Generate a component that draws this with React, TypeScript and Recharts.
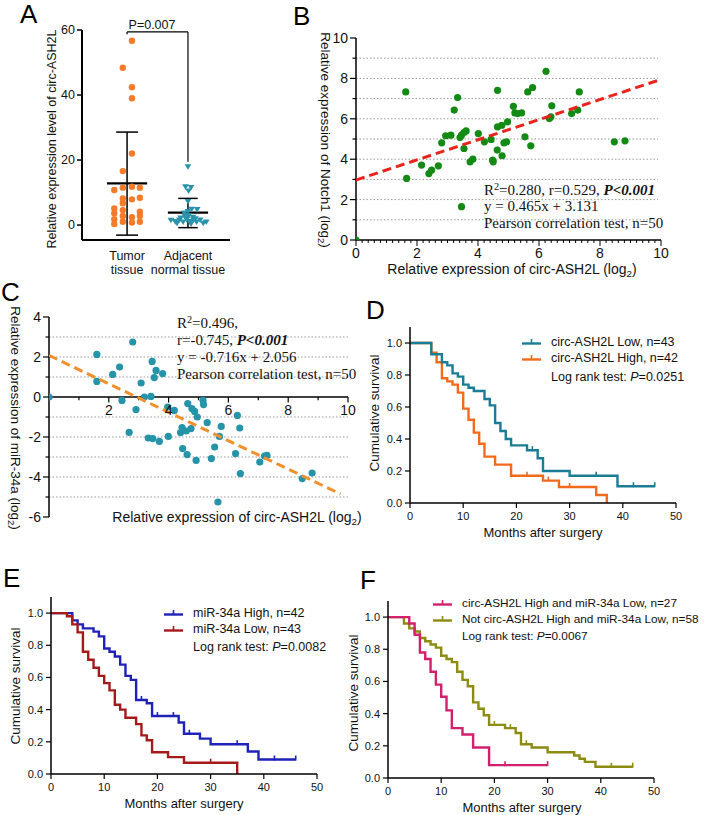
import React from 'react';
import {
  ScatterChart,
  Scatter,
  LineChart,
  Line,
  XAxis,
  YAxis,
  ReferenceLine,
  ReferenceDot,
} from 'recharts';

const SANS = '"Liberation Sans", Arial, Helvetica, sans-serif';
const SERIF = '"Liberation Serif", "Times New Roman", serif';

// ---------- A: circ-ASH2L level, tumour vs adjacent tissue ----------
// [jitter (category units), value]
const aTumor = [
  [0.08, 56.7], [-0.07, 48.4], [0.08, 42.4], [0.08, 39.0], [0.08, 22.0], [-0.07, 16.6],
  [-0.21, 10.8], [-0.07, 11.5], [0.08, 11.8], [0.21, 11.5], [-0.07, 8.2], [0.08, 7.9],
  [0.21, 8.4], [-0.07, 6.7], [-0.21, 5.1], [-0.07, 4.6], [0.21, 4.1], [-0.21, 3.6],
  [-0.07, 2.8], [0.08, 2.4], [0.21, 2.8], [-0.21, 1.8], [-0.21, 0.3], [-0.07, 1.0],
  [0.08, 0.8], [0.21, 1.0],
];
const aAdjacent = [
  [0, 18.0], [-0.04, 11.8], [0.05, 11.6], [0.01, 10.5], [0, 7.3], [0.06, 4.9], [0.15, 4.8],
  [0.0, 4.2], [-0.06, 3.7], [-0.28, 1.5], [-0.21, 1.1], [-0.14, 1.6], [-0.08, 1.0],
  [-0.02, 1.7], [0.03, 1.1], [0.09, 1.6], [0.14, 1.0], [0.2, 1.6], [0.25, 0.6], [0.3, 1.0],
  [-0.05, 2.6], [0.01, 2.9], [0.08, 2.4], [0.12, 2.0], [-0.12, 2.2], [-0.18, 0.6], [0.05, 0.4],
];
const aGroups = [['Tumor', 'tissue'], ['Adjacent', 'normal tissue']];
const aMean = [12.8, 3.8];
const aSdTop = [28.6, 8.2];
const aSdBottom = [-3.1, -0.8];
const aYTicks = [0, 20, 40, 60];
const aBracket = { top: 59.4, leftEnd: 58.7, rightEnd: 19.5, label: 'P=0.007' };

// ---------- B: Notch1 vs circ-ASH2L ----------
const bPoints = [
  [1.63, 7.33], [1.66, 3.05], [2.15, 3.71], [2.39, 3.29], [2.48, 3.46], [2.7, 3.67], [2.81, 4.81],
  [2.94, 5.16], [3.11, 5.19], [3.22, 6.43], [3.33, 7.05], [3.41, 5.07], [3.46, 5.19], [3.54, 5.32],
  [3.61, 5.4], [3.54, 4.53], [3.74, 3.87], [3.83, 4.0], [4.01, 5.27], [4.21, 4.86], [4.43, 4.98],
  [4.48, 3.95], [4.5, 3.87], [4.63, 4.45], [4.64, 7.41], [4.64, 5.6], [4.78, 5.68], [4.79, 4.17],
  [4.85, 4.81], [4.94, 4.86], [4.97, 5.85], [5.16, 6.62], [5.21, 6.29], [5.3, 6.26], [5.43, 6.29],
  [5.54, 5.11], [5.63, 7.33], [5.73, 4.66], [5.79, 7.55], [6.23, 8.35], [6.34, 6.01], [6.42, 6.64],
  [6.39, 6.1], [7.07, 6.26], [7.27, 6.43], [7.32, 7.33], [8.47, 4.86], [8.82, 4.91], [3.46, 1.65],
  [0, 0],
];
const bFit = [[0, 2.97], [10, 7.95]];
const bGrid = [1, 2, 3, 4, 5, 6, 7, 8, 9];
const bXTicks = [
  0, 0.2, 0.4, 0.6, 0.8, 1, 1.2, 1.4, 1.6, 1.8, 2, 2.2, 2.4, 2.6, 2.8, 3, 3.2, 3.4, 3.6, 3.8,
  4, 4.2, 4.4, 4.6, 4.8, 5, 5.2, 5.4, 5.6, 5.8, 6, 6.2, 6.4, 6.6, 6.8, 7, 7.2, 7.4, 7.6, 7.8,
  8, 8.2, 8.4, 8.6, 8.8, 9, 9.2, 9.4, 9.6, 9.8, 10,
];
const bYTicks = [0, 1, 2, 3, 4, 5, 6, 7, 8, 9, 10];

// ---------- C: miR-34a vs circ-ASH2L ----------
const cPoints = [
  [0, 0], [1.6, 2.13], [1.6, 0.78], [2.13, 1.13], [2.36, 1.5], [2.44, -0.17], [2.68, -1.77],
  [2.8, 2.75], [2.91, -0.63], [3.08, 0.7], [3.19, 0.0], [3.32, -2.05], [3.41, 0.03], [3.47, -2.08],
  [3.45, 1.78], [3.52, 0.97], [3.58, 1.33], [3.69, -2.22], [3.8, 1.17], [3.97, -0.5], [3.99, -1.97],
  [4.19, -0.67], [4.4, -1.78], [4.45, -1.53], [4.47, -2.58], [4.59, -1.7], [4.64, -0.33],
  [4.62, -2.88], [4.75, -1.58], [4.78, -0.58], [4.87, -0.72], [4.92, -3.17], [4.96, -1.0],
  [5.15, -0.17], [5.17, -0.38], [5.29, -1.28], [5.43, -3.08], [5.54, -2.5], [5.65, -5.25],
  [5.7, -1.97], [5.76, -1.47], [6.24, -2.83], [6.3, -0.92], [6.38, -1.55], [6.4, -3.83],
  [7.05, -3.25], [7.21, -2.95], [7.29, -2.92], [8.47, -4.08], [8.8, -3.8],
];
const cFit = [[0, 2.08], [9.75, -4.85]];
const cGrid = [3, 2, 1, -1, -2, -3, -4, -5];
const cXTicks = [1, 2, 3, 4, 5, 6, 7, 8, 9, 10];
const cYTicks = [-6, -5, -4, -3, -2, -1, 0, 1, 2, 3, 4];

// ---------- D/E/F: Kaplan-Meier curves [month, survival, censored?] ----------
const dLow = [
  [0, 1], [4, 0.93], [6, 0.88], [7, 0.86], [8, 0.81], [9, 0.79], [10, 0.74], [11, 0.72], [12, 0.7],
  [14, 0.65], [15, 0.61], [16, 0.5], [17, 0.45], [18, 0.4], [19, 0.36], [22, 0.33], [23, 0.33, 1],
  [24, 0.28], [25, 0.2], [30, 0.17], [35, 0.17, 1], [39, 0.105], [42, 0.105, 1], [46, 0.105, 1],
];
const dHigh = [
  [0, 1], [4, 0.94], [5, 0.88], [6, 0.78], [7, 0.76], [8, 0.74], [9, 0.69], [10, 0.59], [11, 0.52],
  [12, 0.44], [13, 0.37], [14, 0.29], [16, 0.24], [19, 0.17], [22, 0.17, 1], [25, 0.14],
  [26, 0.14, 1], [28, 0.1], [30, 0.1, 1], [35, 0.05], [37, 0],
];
const eHigh = [
  [0, 1], [4, 0.955], [5, 0.93], [6, 0.905], [8, 0.885], [9, 0.855], [10, 0.78], [11, 0.76],
  [12, 0.73], [13, 0.68], [14, 0.61], [15, 0.585], [16, 0.46], [17, 0.46, 1], [18, 0.44],
  [19, 0.36], [20, 0.36, 1], [23, 0.36, 1], [24, 0.32], [25, 0.25], [26, 0.25, 1], [28, 0.22],
  [30, 0.185], [35, 0.185, 1], [37, 0.14], [39, 0.09], [42, 0.09, 1], [46, 0.09, 1],
];
const eLow = [
  [0, 1], [3, 0.98], [4, 0.93], [5, 0.88], [6, 0.76], [7, 0.71], [8, 0.66], [9, 0.61], [10, 0.565],
  [11, 0.52], [12, 0.43], [13, 0.4], [14, 0.35], [16, 0.31], [17, 0.24], [18, 0.21], [19, 0.135],
  [22, 0.105], [25, 0.07], [30, 0.07, 1], [35, 0],
];
const fHighLow = [
  [0, 1], [4, 0.96], [5, 0.89], [6, 0.78], [7, 0.74], [8, 0.66], [9, 0.58], [10, 0.505],
  [11, 0.42], [12, 0.31], [14, 0.27], [16, 0.19], [19, 0.08], [22, 0.08, 1], [30, 0.08, 1],
];
const fOther = [
  [0, 1], [3, 0.96], [4, 0.93], [5, 0.91], [6, 0.87], [7, 0.85], [8, 0.83], [9, 0.81], [10, 0.76],
  [11, 0.74], [12, 0.72], [13, 0.66], [14, 0.61], [15, 0.57], [16, 0.47], [17, 0.43], [18, 0.39],
  [19, 0.33], [20, 0.33, 1], [22, 0.31], [23, 0.31, 1], [24, 0.28], [25, 0.21], [26, 0.21, 1],
  [27, 0.19], [30, 0.16], [35, 0.14], [36, 0.12], [37, 0.1], [39, 0.07], [42, 0.07, 1], [46, 0.07, 1],
];
const kmXTicks = [0, 10, 20, 30, 40, 50];
const kmYTicks = [0, 0.2, 0.4, 0.6, 0.8, 1.0];

const dNames = ['circ-ASH2L Low, n=43', 'circ-ASH2L High, n=42'];
const eNames = ['miR-34a High, n=42', 'miR-34a Low, n=43'];
const fNames = ['circ-ASH2L High and miR-34a Low, n=27', 'Not circ-ASH2L High and miR-34a Low, n=58'];
const pValues = ['0.0251', '0.0082', '0.0067'];

const COL = {
  aOrange: '#f47b2a',
  aTeal: '#2a93ab',
  bGreen: '#138a14',
  bRed: '#e8241d',
  cTeal: '#2593a8',
  cOrange: '#f0902c',
  dTeal: '#1b7c95',
  dOrange: '#f26a1c',
  eBlue: '#1f22b8',
  eRed: '#a5191b',
  fMagenta: '#d2206c',
  fOlive: '#8c8b12',
};

const toXY = (arr: number[][]) => arr.map(([x, y]) => ({ x, y }));
const toKM = (arr: number[][]) => arr.map(([t, s, c]) => ({ t, s, c: !!c }));

// ---------- small helpers ----------
function Txt({ x, y, size, rotate = 0, family = SANS, children }: any) {
  return (
    <div
      style={{
        position: 'absolute',
        left: x,
        top: y,
        transform: `translate(-50%, -50%) rotate(${rotate}deg)`,
        fontSize: size,
        fontFamily: family,
        whiteSpace: 'nowrap',
        lineHeight: 1,
        color: '#111',
      }}
    >
      {children}
    </div>
  );
}

const Sub = ({ children }: any) => (
  <span style={{ fontSize: '0.7em', verticalAlign: '-0.3em', lineHeight: 0 }}>{children}</span>
);
const Sup = ({ children }: any) => (
  <span style={{ fontSize: '0.68em', verticalAlign: '0.5em', lineHeight: 0 }}>{children}</span>
);

function Letter({ x, y, children }: any) {
  return (
    <div style={{ position: 'absolute', left: x, top: y, fontSize: 26, lineHeight: '30px', fontFamily: SANS, color: '#000' }}>
      {children}
    </div>
  );
}

const dot = (color: string, r: number) => (p: any) => (
  <circle cx={p.cx} cy={p.cy} r={r} fill={color} />
);
const triDown = (color: string) => (p: any) => (
  <polygon
    points={`${p.cx - 3.4},${p.cy - 2.4} ${p.cx + 3.4},${p.cy - 2.4} ${p.cx},${p.cy + 3.2}`}
    fill={color}
  />
);
const noShape = () => <g />;

// ---------- Panel A ----------
function CatTick(p: any) {
  const idx = Math.round(p.payload.value) - 1;
  const lines = aGroups[idx] || ['', ''];
  return (
    <g>
      <text x={p.x} y={p.y + 19.5} textAnchor="middle" fontSize={12.5} fontFamily={SANS} fill="#111">
        {lines[0]}
      </text>
      <text x={p.x} y={p.y + 34} textAnchor="middle" fontSize={12.5} fontFamily={SANS} fill="#111">
        {lines[1]}
      </text>
    </g>
  );
}

function PanelA() {
  const tumor = aTumor.map(([j, v]) => ({ x: 1 + j, y: v }));
  const adj = aAdjacent.map(([j, v]) => ({ x: 2 + j, y: v }));
  const seg = (x1: number, y1: number, x2: number, y2: number, w = 2) => (
    <ReferenceLine
      key={`${x1}-${y1}-${x2}-${y2}`}
      segment={[{ x: x1, y: y1 }, { x: x2, y: y2 }]}
      stroke="#000"
      strokeWidth={w}
    />
  );
  return (
    <ScatterChart width={210} height={270} margin={{ top: 10, right: 10, bottom: 10, left: 22 }}>
      <XAxis
        type="number"
        dataKey="x"
        domain={[0.26, 2.69]}
        allowDataOverflow
        ticks={[1, 2]}
        interval={0}
        height={40}
        axisLine={{ stroke: '#000', strokeWidth: 2 }}
        tickLine={false}
        tickSize={0}
        tickMargin={0}
        tick={(p: any) => <CatTick {...p} />}
      />
      <YAxis
        type="number"
        dataKey="y"
        domain={[-4.6, 60]}
        allowDataOverflow
        ticks={aYTicks}
        interval={0}
        width={30}
        axisLine={{ stroke: '#000', strokeWidth: 2 }}
        tickLine={{ stroke: '#000', strokeWidth: 1.5 }}
        tickSize={5}
        tickMargin={2}
        tick={{ fill: '#111', fontSize: 12.5, fontFamily: SANS }}
      />
      {aMean.map((m, i) => seg(i + 1 - 0.33, m, i + 1 + 0.33, m, 2.2))}
      {aSdTop.map((v, i) => seg(i + 1, aSdBottom[i], i + 1, v, 1.5))}
      {aSdTop.map((v, i) => seg(i + 1 - (i ? 0.16 : 0.18), v, i + 1 + (i ? 0.16 : 0.18), v, 1.5))}
      {aSdBottom.map((v, i) => seg(i + 1 - (i ? 0.16 : 0.18), v, i + 1 + (i ? 0.16 : 0.18), v, 1.5))}
      {seg(1, aBracket.leftEnd, 1, aBracket.top, 1.2)}
      {seg(1, aBracket.top, 2, aBracket.top, 1.2)}
      {seg(2, aBracket.top, 2, aBracket.rightEnd, 1.2)}
      <Scatter data={tumor} shape={dot(COL.aOrange, 3.2)} isAnimationActive={false} />
      <Scatter data={adj} shape={triDown(COL.aTeal)} isAnimationActive={false} />
    </ScatterChart>
  );
}

// ---------- Panel B ----------
function BXTick(p: any) {
  const v = p.payload.value;
  const major = Number.isInteger(v) && v % 2 === 0;
  return (
    <g>
      <line x1={p.x} x2={p.x} y1={p.y} y2={p.y + (major ? 6 : 3)} stroke="#000" strokeWidth={1} />
      {major && (
        <text x={p.x} y={p.y + 17.5} textAnchor="middle" fontSize={14} fontFamily={SANS} fill="#111">
          {v}
        </text>
      )}
    </g>
  );
}

function YTick(p: any) {
  const v = p.payload.value;
  const major = v % 2 === 0;
  return (
    <g>
      <line x1={p.x} x2={p.x - (major ? 6 : 3.5)} y1={p.y} y2={p.y} stroke="#000" strokeWidth={1.2} />
      {major && (
        <text x={p.x - 8} y={p.y + 5} textAnchor="end" fontSize={14} fontFamily={SANS} fill="#111">
          {v}
        </text>
      )}
    </g>
  );
}

function PanelB() {
  return (
    <ScatterChart width={380} height={270} margin={{ top: 18, right: 19, bottom: 20, left: 26 }}>
      <XAxis
        type="number"
        dataKey="x"
        domain={[0, 10]}
        allowDataOverflow
        ticks={bXTicks}
        interval={0}
        height={30}
        axisLine={{ stroke: '#000', strokeWidth: 1.5 }}
        tickLine={false}
        tickSize={0}
        tickMargin={0}
        tick={(p: any) => <BXTick {...p} />}
      />
      <YAxis
        type="number"
        dataKey="y"
        domain={[0, 10]}
        allowDataOverflow
        ticks={bYTicks}
        interval={0}
        width={30}
        axisLine={{ stroke: '#000', strokeWidth: 1.5 }}
        tickLine={false}
        tickSize={0}
        tickMargin={0}
        tick={(p: any) => <YTick {...p} />}
      />
      {bGrid.map((g) => (
        <ReferenceLine
          key={g}
          segment={[{ x: 0, y: g }, { x: 9.9, y: g }]}
          stroke="#999"
          strokeWidth={1}
          strokeDasharray="1.5 2"
        />
      ))}
      <Scatter data={toXY(bPoints)} shape={dot(COL.bGreen, 3.6)} isAnimationActive={false} />
      <Scatter
        data={toXY(bFit)}
        shape={noShape}
        line={{ stroke: COL.bRed, strokeWidth: 3, strokeDasharray: '9 5' }}
        isAnimationActive={false}
      />
    </ScatterChart>
  );
}

// ---------- Panel C ----------
function PanelC() {
  return (
    <ScatterChart width={360} height={250} margin={{ top: 27, right: 12, bottom: 23, left: 19 }}>
      <XAxis type="number" dataKey="x" domain={[0, 10]} allowDataOverflow hide />
      <YAxis
        type="number"
        dataKey="y"
        domain={[-6, 4]}
        allowDataOverflow
        ticks={cYTicks}
        interval={0}
        width={30}
        axisLine={{ stroke: '#000', strokeWidth: 1.5 }}
        tickLine={false}
        tickSize={0}
        tickMargin={0}
        tick={(p: any) => <YTick {...p} />}
      />
      {cGrid.map((g) => (
        <ReferenceLine
          key={g}
          segment={[{ x: 0, y: g }, { x: 10, y: g }]}
          stroke="#999"
          strokeWidth={1}
          strokeDasharray="1.5 2"
        />
      ))}
      <ReferenceLine segment={[{ x: 0, y: 0 }, { x: 10, y: 0 }]} stroke="#000" strokeWidth={1.5} />
      {cXTicks.map((t) => (
        <ReferenceLine
          key={`t${t}`}
          segment={[{ x: t, y: 0 }, { x: t, y: t % 2 === 0 ? -0.28 : -0.16 }]}
          stroke="#000"
          strokeWidth={1.2}
        />
      ))}
      {cXTicks
        .filter((t) => t % 2 === 0)
        .map((t) => (
          <ReferenceDot
            key={`l${t}`}
            x={t}
            y={0}
            r={1}
            fill="none"
            stroke="none"
            label={{ value: String(t), position: 'bottom', offset: 7, fill: '#111', fontSize: 14, fontFamily: SANS }}
          />
        ))}
      <Scatter data={toXY(cPoints)} shape={dot(COL.cTeal, 3.6)} isAnimationActive={false} />
      <Scatter
        data={toXY(cFit)}
        shape={noShape}
        line={{ stroke: COL.cOrange, strokeWidth: 3, strokeDasharray: '9 5' }}
        isAnimationActive={false}
      />
    </ScatterChart>
  );
}

// ---------- Kaplan-Meier ----------
const censorDot = (color: string) => (p: any) =>
  p.payload && p.payload.c ? (
    <line key={p.index} x1={p.cx} x2={p.cx} y1={p.cy - 4} y2={p.cy + 1} stroke={color} strokeWidth={1.6} />
  ) : (
    <g key={p.index} />
  );

function KMChart({ width, height, margin, yWidth, series }: any) {
  return (
    <LineChart width={width} height={height} margin={margin}>
      <XAxis
        type="number"
        dataKey="t"
        domain={[0, 50]}
        allowDataOverflow
        ticks={kmXTicks}
        interval={0}
        height={22}
        axisLine={{ stroke: '#000', strokeWidth: 1.5 }}
        tickLine={{ stroke: '#000', strokeWidth: 1.2 }}
        tickSize={5}
        tickMargin={4}
        tick={{ fill: '#111', fontSize: 11, fontFamily: SANS }}
      />
      <YAxis
        type="number"
        domain={[0, 1.1]}
        allowDataOverflow
        ticks={kmYTicks}
        interval={0}
        width={yWidth}
        tickFormatter={(v: number) => v.toFixed(1)}
        axisLine={{ stroke: '#000', strokeWidth: 1.5 }}
        tickLine={{ stroke: '#000', strokeWidth: 1.2 }}
        tickSize={5}
        tickMargin={3}
        tick={{ fill: '#111', fontSize: 11, fontFamily: SANS }}
      />
      {series.map((s: any) => (
        <Line
          key={s.color}
          data={toKM(s.data)}
          dataKey="s"
          type="stepAfter"
          stroke={s.color}
          strokeWidth={2.4}
          dot={censorDot(s.color)}
          activeDot={false}
          isAnimationActive={false}
        />
      ))}
    </LineChart>
  );
}

function KMLegend({ left, rows, logY, p, size = 12.5 }: any) {
  const rowStyle: any = {
    position: 'absolute',
    height: 16,
    display: 'flex',
    alignItems: 'center',
    fontSize: size,
    fontFamily: SANS,
    whiteSpace: 'nowrap',
    color: '#111',
  };
  return (
    <>
      {rows.map((r: any) => (
        <div key={r.label} style={{ ...rowStyle, left: left - 29, top: r.y - 8 }}>
          <svg width={19} height={8} style={{ marginRight: 10 }}>
            <line x1={0} x2={19} y1={5.5} y2={5.5} stroke={r.color} strokeWidth={2.4} />
            <line x1={9.5} x2={9.5} y1={1} y2={5.5} stroke={r.color} strokeWidth={1.6} />
          </svg>
          {r.label}
        </div>
      ))}
      <div style={{ ...rowStyle, left, top: logY - 8 }}>
        Log rank test:&nbsp;<i>P</i>={p}
      </div>
    </>
  );
}

export default function App() {
  return (
    <div
      style={{
        position: 'absolute',
        left: 0,
        top: 0,
        width: 709,
        height: 815,
        background: '#fff',
        overflow: 'hidden',
        fontFamily: SANS,
      }}
    >
      {/* A */}
      <Letter x={20} y={-1}>A</Letter>
      <div style={{ position: 'absolute', left: 30, top: 20 }}>
        <PanelA />
      </div>
      <Txt x={52} y={139} size={12.5} rotate={-90}>Relative expression level of circ-ASH2L</Txt>
      <Txt x={152} y={25} size={12.5}>{aBracket.label}</Txt>

      {/* B */}
      <Letter x={293} y={1}>B</Letter>
      <div style={{ position: 'absolute', left: 300, top: 20 }}>
        <PanelB />
      </div>
      <Txt x={325} y={140} size={13.5} rotate={90}>
        Relative expression of Notch1 (log<Sub>2</Sub>)
      </Txt>
      <Txt x={512} y={269} size={14}>
        Relative expression of circ-ASH2L (log<Sub>2</Sub>)
      </Txt>
      <div style={{ position: 'absolute', left: 484, top: 181.5, fontFamily: SERIF, fontSize: 15, lineHeight: '16.5px', color: '#111', whiteSpace: 'nowrap' }}>
        <div>R<Sup>2</Sup>=0.280, r=0.529, <b><i>P&lt;0.001</i></b></div>
        <div>y = 0.465x + 3.131</div>
        <div>Pearson correlation test, n=50</div>
      </div>

      {/* C */}
      <Letter x={1} y={277}>C</Letter>
      <div style={{ position: 'absolute', left: 0, top: 290 }}>
        <PanelC />
      </div>
      <Txt x={15} y={418} size={13.5} rotate={90}>
        Relative expression of miR-34a (log<Sub>2</Sub>)
      </Txt>
      <Txt x={237} y={517} size={14}>
        Relative expression of circ-ASH2L (log<Sub>2</Sub>)
      </Txt>
      <div style={{ position: 'absolute', left: 177, top: 314.5, fontFamily: SERIF, fontSize: 15, lineHeight: '17px', color: '#111', whiteSpace: 'nowrap' }}>
        <div>R<Sup>2</Sup>=0.496,</div>
        <div>r=-0.745, <b><i>P&lt;0.001</i></b></div>
        <div>y = -0.716x + 2.056</div>
        <div>Pearson correlation test, n=50</div>
      </div>

      {/* D */}
      <Letter x={366} y={295}>D</Letter>
      <div style={{ position: 'absolute', left: 360, top: 320 }}>
        <KMChart
          width={340}
          height={230}
          margin={{ top: 7, right: 24, bottom: 25, left: 10 }}
          yWidth={40}
          series={[
            { data: dHigh, color: COL.dOrange },
            { data: dLow, color: COL.dTeal },
          ]}
        />
      </div>
      <Txt x={375} y={413} size={13.5} rotate={-90}>Cumulative survival</Txt>
      <Txt x={543} y={532} size={13}>Months after surgery</Txt>
      <KMLegend
        left={551}
        rows={[
          { label: dNames[0], color: COL.dTeal, y: 342 },
          { label: dNames[1], color: COL.dOrange, y: 358 },
        ]}
        logY={377}
        p={pValues[0]}
      />

      {/* E */}
      <Letter x={3} y={563}>E</Letter>
      <div style={{ position: 'absolute', left: 0, top: 570 }}>
        <KMChart
          width={340}
          height={230}
          margin={{ top: 27, right: 23, bottom: 4, left: 11 }}
          yWidth={40}
          series={[
            { data: eHigh, color: COL.eBlue },
            { data: eLow, color: COL.eRed },
          ]}
        />
      </div>
      <Txt x={16} y={686} size={13.5} rotate={-90}>Cumulative survival</Txt>
      <Txt x={184} y={803} size={13}>Months after surgery</Txt>
      <KMLegend
        left={193}
        rows={[
          { label: eNames[0], color: COL.eBlue, y: 613 },
          { label: eNames[1], color: COL.eRed, y: 629 },
        ]}
        logY={647}
        p={pValues[1]}
      />

      {/* F */}
      <Letter x={360} y={565}>F</Letter>
      <div style={{ position: 'absolute', left: 360, top: 570 }}>
        <KMChart
          width={340}
          height={230}
          margin={{ top: 31, right: 46, bottom: 0, left: 3 }}
          yWidth={25}
          series={[
            { data: fOther, color: COL.fOlive },
            { data: fHighLow, color: COL.fMagenta },
          ]}
        />
      </div>
      <Txt x={354} y={693} size={13.5} rotate={-90}>Cumulative survival</Txt>
      <Txt x={522} y={807} size={13}>Months after surgery</Txt>
      <KMLegend
        left={462}
        size={11.8}
        rows={[
          { label: fNames[0], color: COL.fMagenta, y: 603 },
          { label: fNames[1], color: COL.fOlive, y: 619 },
        ]}
        logY={636}
        p={pValues[2]}
      />
    </div>
  );
}
